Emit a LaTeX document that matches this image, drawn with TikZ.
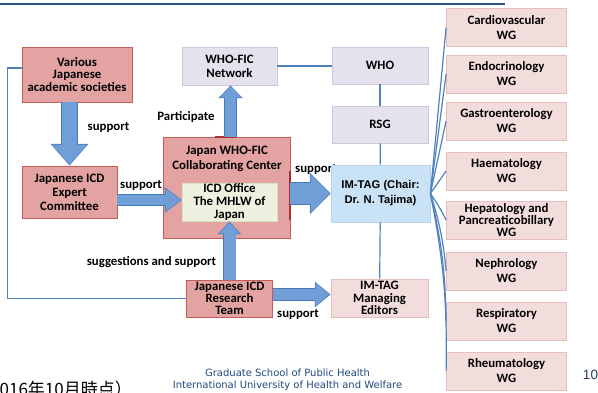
\documentclass[tikz,border=0pt]{standalone}
\usepackage{fontspec}
\setmainfont{Carlito}
\newfontfamily\arialf{Liberation Sans}
\newfontfamily\verdf{DejaVu Sans}
\newfontfamily\cjkf{Noto Sans CJK JP}
\usetikzlibrary{arrows.meta,calc}

\definecolor{redfill}{RGB}{226,163,162}
\definecolor{redline}{RGB}{196,92,90}
\definecolor{darkred}{RGB}{170,50,50}
\definecolor{pinkfill}{RGB}{243,221,220}
\definecolor{pinkline}{RGB}{232,190,189}
\definecolor{lavfill}{RGB}{229,225,237}
\definecolor{lavline}{RGB}{206,198,220}
\definecolor{bluefill}{RGB}{202,226,245}
\definecolor{blueline}{RGB}{185,212,238}
\definecolor{greenfill}{RGB}{236,242,223}
\definecolor{greenline}{RGB}{214,226,190}
\definecolor{connblue}{RGB}{79,129,189}
\definecolor{arrowlight}{RGB}{112,158,214}
\definecolor{arrowdark}{RGB}{72,122,184}
\definecolor{topline}{RGB}{38,84,124}
\definecolor{footblue}{RGB}{31,73,125}
\definecolor{pagenum}{RGB}{40,62,92}

\tikzset{
  box/.style={align=center, inner sep=0pt, font=\bfseries\fontsize{12.8}{13}\selectfont, line width=0.8pt},
  redbox/.style={box, fill=redfill, draw=redline},
  pinkbox/.style={box, fill=pinkfill, draw=pinkline},
  lavbox/.style={box, fill=lavfill, draw=lavline},
  wgbox/.style={pinkbox, minimum width=120pt, minimum height=38pt, font=\bfseries\fontsize{12.8}{15}\selectfont},
  conn/.style={draw=connblue, line width=1.2pt},
  lbl/.style={inner sep=0pt, font=\bfseries\fontsize{12.8}{13}\selectfont},
  barrow/.style n args={3}{line width=#1, -{Triangle[width=#2,length=#3]}}
}

\newcommand\blockarr[5]{%
  \pgfmathsetlengthmacro\bsa{#3+1.6pt}%
  \pgfmathsetlengthmacro\bha{#4+2.6pt}%
  \pgfmathsetlengthmacro\bla{#5+1.8pt}%
  \draw[draw=arrowdark, barrow={\bsa}{\bha}{\bla}] #1 -- #2;
  \draw[draw=arrowlight, shorten >=1pt, barrow={#3}{#4}{#5}] #1 -- #2;
}

\begin{document}
\begin{tikzpicture}[x=1pt,y=-1pt]
\useasboundingbox (0,0) rectangle (598,392);

% top rule
\coordinate (tl) at (0,4);
\coordinate (tr) at (505,4);
\draw[draw=topline, line width=1.5pt] (tl) -- (tr);

% left column
\node[redbox, minimum width=110pt, minimum height=55pt, font=\bfseries\fontsize{12.8}{12.5}\selectfont] (various) at (77,74.5) {Various\\Japanese\\academic societies};
\node[redbox, minimum width=95pt, minimum height=52pt, font=\bfseries\fontsize{12.8}{14}\selectfont] (expert) at (69.5,192) {Japanese ICD\\Expert\\Committee};

% centre
\node[lavbox, minimum width=95pt, minimum height=38pt, font=\bfseries\fontsize{12.8}{14}\selectfont] (network) at (229.5,66) {WHO-FIC\\Network};
\node[redbox, minimum width=127pt, minimum height=101pt] (collab) at (226.5,188) {};
\node[lbl, align=center, font=\bfseries\fontsize{12.8}{15}\selectfont] (collabtxt) at (227,158.5) {Japan WHO-FIC\\Collaborating Center};
\node[box, fill=greenfill, draw=greenline, minimum width=95pt, minimum height=38pt, font=\bfseries\fontsize{12.8}{13}\selectfont] (office) at (229.5,202) {ICD Office\\The MHLW of\\Japan};
\node[redbox, minimum width=86pt, minimum height=37pt, font=\bfseries\fontsize{12.8}{12.3}\selectfont] (research) at (229.5,298.5) {Japanese ICD\\Research\\Team};
\coordinate (dr1) at (290,171);
\coordinate (dr2) at (290,220);
\draw[draw=darkred, line width=1.6pt] (dr1) -- (dr2);
\coordinate (dr3) at (215,137);
\coordinate (dr4) at (236,137);
\draw[draw=darkred, line width=1.2pt] (dr3) -- (dr4);

% right-centre column
\node[lavbox, minimum width=96pt, minimum height=37pt] (who) at (380,65.5) {WHO};
\node[lavbox, minimum width=96pt, minimum height=37pt] (rsg) at (380,124.5) {RSG};
\node[lbl, anchor=west] (supp3) at (295,169) {support};
\node[box, fill=bluefill, draw=blueline, minimum width=99pt, minimum height=57pt, font=\arialf\bfseries\fontsize{11.2}{15}\selectfont] (imtag) at (380.5,193.5) {IM-TAG (Chair:\\Dr. N. Tajima)};
\node[pinkbox, minimum width=97pt, minimum height=38pt, font=\bfseries\fontsize{12.8}{12.5}\selectfont] (managing) at (379.5,298) {IM-TAG\\Managing\\Editors};

% WG column
\node[wgbox] (wg1) at (506.5,27.5) {Cardiovascular\\WG};
\node[wgbox] (wg2) at (506.5,74) {Endocrinology\\WG};
\node[wgbox] (wg3) at (506.5,121) {Gastroenterology\\WG};
\node[wgbox] (wg4) at (506.5,171) {Haematology\\WG};
\node[wgbox, font=\bfseries\fontsize{12.8}{12}\selectfont] (wg5) at (506.5,220) {Hepatology and\\Pancreaticobillary\\WG};
\node[wgbox] (wg6) at (506.5,271) {Nephrology\\WG};
\node[wgbox] (wg7) at (506.5,321) {Respiratory\\WG};
\node[wgbox] (wg8) at (506.5,371) {Rheumatology\\WG};

% thin connectors
\draw[conn] (network.east) -- (who.west |- network.east);
\draw[conn] (who) -- (rsg);
\draw[conn] (rsg) -- (imtag);
\draw[conn] (imtag) -- (managing);
\coordinate (loopc) at (7.5,68);
\draw[conn] (various.west |- loopc) -- (loopc) |- (research.west);
\foreach \n in {1,2,3,4} \draw[conn] (imtag.east) -- (wg\n.west);
\draw[conn] (imtag.east) to[bend left=4] (wg5.west);
\foreach \n in {6,7,8} \draw[conn] (imtag.east) to[bend left=6] (wg\n.west);

% block arrows
\blockarr{(expert.north |- various.south)}{(expert.north)}{15pt}{34pt}{20pt}
\blockarr{($(expert.east)+(0,8)$)}{($(office.west)+(0,-2)$)}{10pt}{22pt}{15pt}
\blockarr{(collab.east |- imtag.west)}{(imtag.west)}{21pt}{38pt}{19pt}
\blockarr{($(network.south |- collab.north)+(1,0)$)}{($(network.south)+(1,0)$)}{11pt}{21pt}{11pt}
\blockarr{(research.north)}{(office.south)}{12pt}{20pt}{11pt}
\blockarr{($(research.east)+(0,-4)$)}{($(managing.west)+(0,-3.5)$)}{11pt}{22pt}{14pt}

% labels
\node[lbl] (supp1) at (108.5,127) {support};
\node[lbl] (supp2) at (141,185) {support};
\node[lbl] (part) at (186,117) {Participate};
\node[lbl] (sugg) at (151.5,262) {suggestions and support};
\node[lbl] (supp4) at (298,314) {support};

% footer
\node[inner sep=0pt, text=footblue, align=center, font=\verdf\fontsize{10}{12}\selectfont] (foot) at (287.5,380) {Graduate School of Public Health\\International University of Health and Welfare};
\node[inner sep=0pt, text=pagenum, font=\arialf\fontsize{13.5}{14}\selectfont] (pnum) at (590.5,375) {10};
\node[inner sep=0pt, anchor=base west, font=\cjkf\fontsize{17}{19}\selectfont] (date) at (-10,395.5) {2016年10月時点）};
\end{tikzpicture}
\end{document}
